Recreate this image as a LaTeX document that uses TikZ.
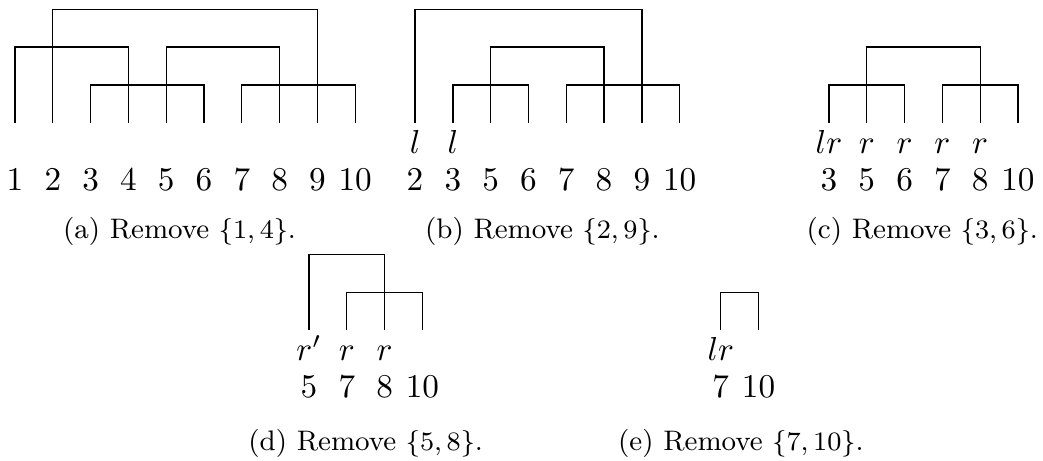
\documentclass[tikz,border=0pt]{standalone}
\usepackage{amsmath, amssymb}
\usepackage{tikz}
\usetikzlibrary{calc, positioning}
\tikzset{
    numnode/.style = {draw=none, fill=none, rectangle, inner sep = 0em, node distance=0.4cm, font=\normalsize},
    labelnode/.style = {draw=none, fill=none, rectangle, inner sep = 0em, text height=7pt, text depth=0pt,
      node distance=0.4cm, font=\normalsize},
    capnode/.style = {draw=none, fill=none, rectangle, inner sep = 0em, anchor=base,
      font=\fontsize{8.5pt}{10pt}\selectfont},
    leaf/.style = {node distance=0.6cm}
}

\begin{document}
\begin{tikzpicture}
    \useasboundingbox (0,0) rectangle (11.037,-4.868);

    % (a) Remove {1,4}
    \foreach \n [count=\i from 0] in {1,...,10} {
        \node [numnode, name=a\n] at (0.159+0.4*\i, -1.898) {\n};
        \coordinate [leaf, above of=a\n] (la\n);
    }
    \draw (la3) -- ++(0,0.4) -| (la6);
    \draw (la7) -- ++(0,0.4) -| (la10);
    \draw (la1) -- ++(0,0.8) -| (la4);
    \draw (la5) -- ++(0,0.8) -| (la8);
    \draw (la2) -- ++(0,1.2) -| (la9);
    \node [capnode, name=capa] at (1.90,-2.529) {(a) Remove $\{1,4\}$.};

    % (b) Remove {2,9}
    \foreach \n [count=\i from 0] in {2,3,5,6,7,8,9,10} {
        \node [numnode, name=b\n] at (4.392+0.4*\i, -1.898) {\n};
        \coordinate [leaf, above of=b\n] (lb\n);
    }
    \node [labelnode, above of=b2] {$l$};
    \node [labelnode, above of=b3] {$l$};
    \draw (lb3) -- ++(0,0.4) -| (lb6);
    \draw (lb7) -- ++(0,0.4) -| (lb10);
    \draw (lb5) -- ++(0,0.8) -| (lb8);
    \draw (lb2) -- ++(0,1.2) -| (lb9);
    \node [capnode, name=capb] at (5.74,-2.529) {(b) Remove $\{2,9\}$.};

    % (c) Remove {3,6}
    \foreach \n [count=\i from 0] in {3,5,6,7,8,10} {
        \node [numnode, name=c\n] at (8.772+0.4*\i, -1.898) {\n};
        \coordinate [leaf, above of=c\n] (lc\n);
    }
    \node [labelnode, above of=c3] {$lr$};
    \foreach \n in {5,6,7,8} \node [labelnode, above of=c\n] {$r$};
    \draw (lc3) -- ++(0,0.4) -| (lc6);
    \draw (lc7) -- ++(0,0.4) -| (lc10);
    \draw (lc5) -- ++(0,0.8) -| (lc8);
    \node [capnode, name=capc] at (9.76,-2.529) {(c) Remove $\{3,6\}$.};

    % (d) Remove {5,8}
    \foreach \n [count=\i from 0] in {5,7,8,10} {
        \node [numnode, name=d\n] at (3.270+0.4*\i, -4.092) {\n};
        \coordinate [leaf, above of=d\n] (ld\n);
    }
    \node [labelnode, above of=d5] {$r'$};
    \node [labelnode, above of=d7] {$r$};
    \node [labelnode, above of=d8] {$r$};
    \draw (ld7) -- ++(0,0.4) -| (ld10);
    \draw (ld5) -- ++(0,0.8) -| (ld8);
    \node [capnode, name=capd] at (3.87,-4.762) {(d) Remove $\{5,8\}$.};

    % (e) Remove {7,10}
    \foreach \n [count=\i from 0] in {7,10} {
        \node [numnode, name=e\n] at (7.627+0.4*\i, -4.092) {\n};
        \coordinate [leaf, above of=e\n] (le\n);
    }
    \node [labelnode, above of=e7] {$lr$};
    \draw (le7) -- ++(0,0.4) -| (le10);
    \node [capnode, name=cape] at (7.84,-4.762) {(e) Remove $\{7,10\}$.};
\end{tikzpicture}
\end{document}
